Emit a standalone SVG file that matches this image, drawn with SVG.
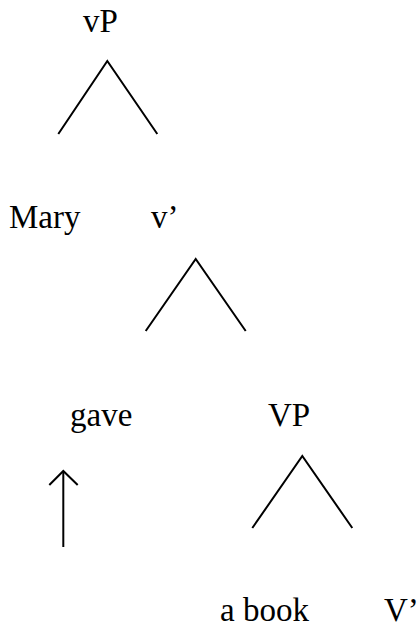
<svg xmlns="http://www.w3.org/2000/svg" width="419" height="628" viewBox="0 0 419 628">
<style>
.t{font-family:"Liberation Serif","Times New Roman",serif;font-size:33px;fill:#000}
.e{fill:none;stroke:#000;stroke-width:2;stroke-linecap:butt;stroke-linejoin:miter}
</style>
<rect width="419" height="628" fill="#fff"/>
<g id="node-vP"><text class="t" x="83" y="32">vP</text></g>
<g id="node-Mary"><text class="t" x="9" y="228">Mary</text></g>
<g id="node-vbar"><text class="t" x="151" y="228">v’</text></g>
<g id="node-gave"><text class="t" x="70" y="426">gave</text></g>
<g id="node-VP"><text class="t" x="268" y="426">VP</text></g>
<g id="node-abook"><text class="t" x="220" y="621">a book</text></g>
<g id="node-Vbar"><text class="t" x="384" y="621">V’</text></g>
<g id="connectors">
<path class="e" d="M58.3,134 L107.3,61 L157.3,134"/>
<path class="e" d="M145.7,331 L195.7,259 L245.7,331"/>
<path class="e" d="M252.3,528 L302.3,456 L352.3,528"/>
<path class="e" d="M63.3,547 L63.3,471"/>
<path class="e" d="M49.3,485 L63.3,471 L77.7,485"/>
</g>
</svg>
